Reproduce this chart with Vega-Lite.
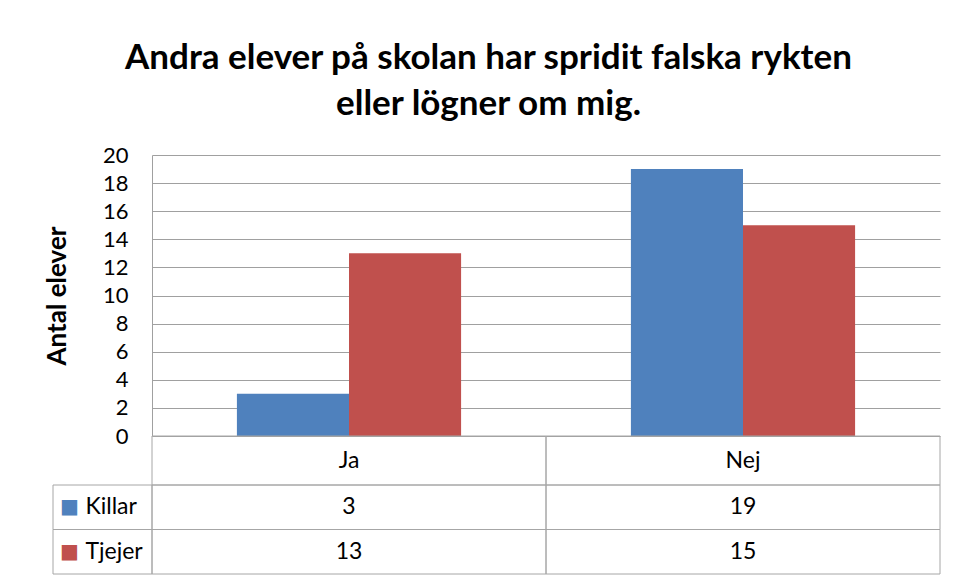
{
  "$schema": "https://vega.github.io/schema/vega-lite/v6.json",
  "datasets": {
    "d": [
      {"kategori": "Ja", "kon": "Killar", "antal": 3},
      {"kategori": "Ja", "kon": "Tjejer", "antal": 13},
      {"kategori": "Nej", "kon": "Killar", "antal": 19},
      {"kategori": "Nej", "kon": "Tjejer", "antal": 15}
    ]
  },
  "title": {
    "text": ["Andra elever på skolan har spridit falska rykten", "eller lögner om mig."],
    "font": "Lato", "fontSize": 35, "fontWeight": "bold", "color": "black",
    "lineHeight": 46, "anchor": "middle", "offset": 22, "dx": -4
  },
  "padding": {"left": 44, "top": 41, "right": 0, "bottom": 0},
  "spacing": 0,
  "bounds": "flush",
  "align": "each",
  "columns": 2,
  "concat": [
    {"width": 99, "height": 281, "data": {"values": []}, "mark": "text", "encoding": {}},
    {
      "width": 788, "height": 281,
      "data": {"name": "d"},
      "mark": {"type": "bar"},
      "encoding": {
        "x": {"field": "kategori", "type": "nominal", "scale": {"paddingInner": 0.431, "paddingOuter": 0.2155}, "axis": null},
        "xOffset": {"field": "kon", "type": "nominal", "scale": {"paddingInner": 0, "paddingOuter": 0}},
        "y": {
          "field": "antal", "type": "quantitative",
          "scale": {"domain": [0, 20], "nice": false},
          "axis": {
            "values": [0, 2, 4, 6, 8, 10, 12, 14, 16, 18, 20],
            "title": "Antal elever", "titleFont": "Lato", "titleFontSize": 26, "titleFontWeight": "bold", "titleColor": "black",
            "titlePadding": 32,
            "labelFont": "Lato", "labelFontSize": 22, "labelColor": "black", "labelPadding": 24,
            "ticks": false, "domainColor": "#A0A0A0", "gridColor": "#A0A0A0", "gridOpacity": 1
          }
        },
        "color": {"field": "kon", "type": "nominal", "scale": {"domain": ["Killar", "Tjejer"], "range": ["#4F81BD", "#C0504D"]}, "legend": null}
      }
    },
    {"width": 99, "height": 49, "data": {"values": []}, "mark": "text", "encoding": {}},
    {
      "width": 788, "height": 49,
      "data": {"name": "d"},
      "transform": [{"aggregate": [], "groupby": ["kategori"]}],
      "encoding": {
        "x": {"field": "kategori", "type": "nominal", "scale": {"paddingInner": 0, "paddingOuter": 0}, "axis": null}
      },
      "layer": [
        {"mark": {"type": "rect", "fill": "transparent", "stroke": "#A6A6A6", "strokeWidth": 1}},
        {"mark": {"type": "text", "font": "Lato", "fontSize": 23, "color": "black"}, "encoding": {"text": {"field": "kategori"}}}
      ]
    },
    {
      "width": 99, "height": 89,
      "data": {"name": "d"},
      "transform": [{"aggregate": [], "groupby": ["kon"]}],
      "encoding": {
        "y": {"field": "kon", "type": "nominal", "scale": {"domain": ["Killar", "Tjejer"], "paddingInner": 0, "paddingOuter": 0}, "axis": null}
      },
      "layer": [
        {"mark": {"type": "rect", "fill": "transparent", "stroke": "#A6A6A6", "strokeWidth": 1}},
        {
          "mark": {"type": "text", "text": "■", "font": "DejaVu Sans", "fontSize": 20, "dx": -33},
          "encoding": {"color": {"field": "kon", "type": "nominal", "scale": {"domain": ["Killar", "Tjejer"], "range": ["#4F81BD", "#C0504D"]}, "legend": null}}
        },
        {
          "mark": {"type": "text", "font": "Lato", "fontSize": 23, "color": "black", "align": "left", "dx": -17},
          "encoding": {"text": {"field": "kon"}}
        }
      ]
    },
    {
      "width": 788, "height": 89,
      "data": {"name": "d"},
      "encoding": {
        "x": {"field": "kategori", "type": "nominal", "scale": {"paddingInner": 0, "paddingOuter": 0}, "axis": null},
        "y": {"field": "kon", "type": "nominal", "scale": {"domain": ["Killar", "Tjejer"], "paddingInner": 0, "paddingOuter": 0}, "axis": null}
      },
      "layer": [
        {"mark": {"type": "rect", "fill": "transparent", "stroke": "#A6A6A6", "strokeWidth": 1}},
        {"mark": {"type": "text", "font": "Lato", "fontSize": 23, "color": "black"}, "encoding": {"text": {"field": "antal", "type": "quantitative"}}}
      ]
    }
  ],
  "config": {
    "view": {"stroke": null},
    "font": "Lato",
    "background": "white"
  }
}
